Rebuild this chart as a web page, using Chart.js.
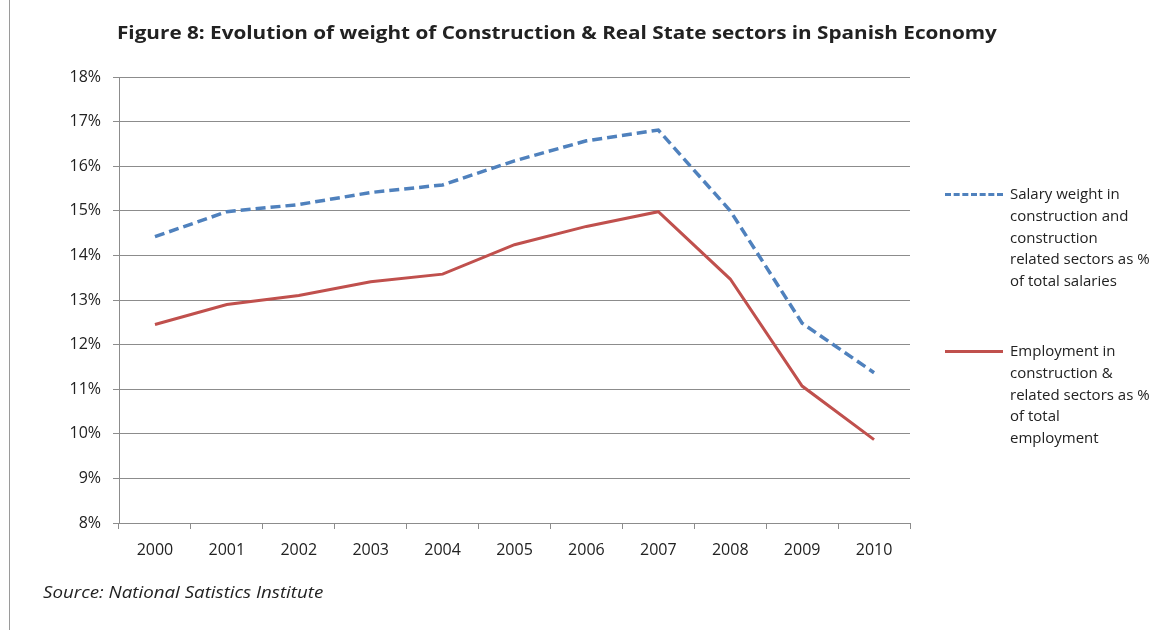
<!DOCTYPE html>
<html lang="en">
  <head>
    <meta charset="UTF-8" />
    <title>Figure 8</title>
    <script src="https://cdn.jsdelivr.net/npm/chart.js"></script>
    <style>
      body { margin: 0; background: #fff; }
      #wrap { position: relative; width: 1176px; height: 630px; font-family: "Open Sans", Lato, sans-serif; color: #222; }
      #edge { position: absolute; left: 9px; top: 0; width: 1px; height: 630px; background: #9a9a9a; }
      #title { position: absolute; left: 117px; top: 20px; font-weight: bold; font-size: 18px; white-space: nowrap; transform: scaleX(1.15); transform-origin: left center; }
      #source { position: absolute; left: 43px; top: 581px; font-style: italic; font-size: 16px; white-space: nowrap; transform: scaleX(1.17); transform-origin: left center; }
      .leg { position: absolute; left: 945px; font-size: 15px; line-height: 21.8px; }
      .leg .swatch { position: absolute; left: 0; top: 10px; width: 58px; height: 0; }
      .leg .txt { position: absolute; left: 65px; top: 0; white-space: nowrap; }
      canvas { position: absolute; left: 0; top: 0; }
    </style>
  </head>
  <body>
    <div id="wrap">
      <canvas id="grafica" width="1176" height="630"></canvas>
      <div id="edge"></div>
      <div id="title">Figure 8: Evolution of weight of Construction &amp; Real State sectors in Spanish Economy</div>
      <div id="source">Source: National Satistics Institute</div>
      <div id="legend"></div>
    </div>
    <script>
      // datos
      const years = ["2000", "2001", "2002", "2003", "2004", "2005", "2006", "2007", "2008", "2009", "2010"];
      const salaryWeight = [14.42, 14.98, 15.14, 15.41, 15.58, 16.12, 16.57, 16.81, 15.0, 12.48, 11.37];
      const employment = [12.45, 12.9, 13.1, 13.41, 13.58, 14.24, 14.65, 14.98, 13.47, 11.07, 9.87];
      const yMin = 8;
      const yMax = 18;

      const salaryLabel = ["Salary weight in", "construction and", "construction", "related sectors as %", "of total salaries"];
      const employmentLabel = ["Employment in", "construction &", "related sectors as %", "of total", "employment"];

      const BLUE = "#4f81bd";
      const RED = "#c0504d";
      const GRID = "#8c8c8c";

      // leyenda en html (texto en varias lineas)
      function addLegend(lines, top, color, dashed) {
        var div = document.createElement("div");
        div.className = "leg";
        div.style.top = top + "px";
        var sw = document.createElement("div");
        sw.className = "swatch";
        sw.style.borderTop = (dashed ? "3px dashed " : "3px solid ") + color;
        div.appendChild(sw);
        var txt = document.createElement("div");
        txt.className = "txt";
        txt.innerHTML = lines.join("<br>");
        div.appendChild(txt);
        document.getElementById("legend").appendChild(div);
      }
      addLegend(salaryLabel, 183, BLUE, true);
      addLegend(employmentLabel, 340, RED, false);

      var ctx = document.getElementById("grafica").getContext("2d");
      new Chart(ctx, {
        type: "line",
        data: {
          labels: years,
          datasets: [
            {
              label: salaryLabel.join(" "),
              data: salaryWeight,
              borderColor: BLUE,
              borderWidth: 3.5,
              borderDash: [10, 5],
              pointRadius: 0,
              fill: false,
              tension: 0,
            },
            {
              label: employmentLabel.join(" "),
              data: employment,
              borderColor: RED,
              borderWidth: 3,
              pointRadius: 0,
              fill: false,
              tension: 0,
            },
          ],
        },
        options: {
          responsive: false,
          animation: false,
          layout: { padding: { left: 0, right: 266, top: 77, bottom: 0 } },
          plugins: {
            legend: { display: false },
            title: { display: false },
            tooltip: { enabled: false },
          },
          scales: {
            x: {
              offset: true,
              grid: {
                offset: true,
                drawOnChartArea: false,
                drawTicks: true,
                tickLength: 6,
                color: GRID,
              },
              border: { color: GRID, width: 1 },
              ticks: { color: "#222", font: { family: "Open Sans", size: 16 }, padding: 12, maxRotation: 0 },
              afterFit: function (scale) { scale.height = 107; },
            },
            y: {
              min: yMin,
              max: yMax,
              grid: { color: GRID, lineWidth: 1, tickLength: 6 },
              border: { color: GRID, width: 1 },
              ticks: {
                stepSize: 1,
                color: "#222",
                font: { family: "Open Sans", size: 16 },
                padding: 12,
                callback: function (v) { return v + "%"; },
              },
              afterFit: function (scale) { scale.width = 119; },
            },
          },
        },
      });
    </script>
  </body>
</html>
